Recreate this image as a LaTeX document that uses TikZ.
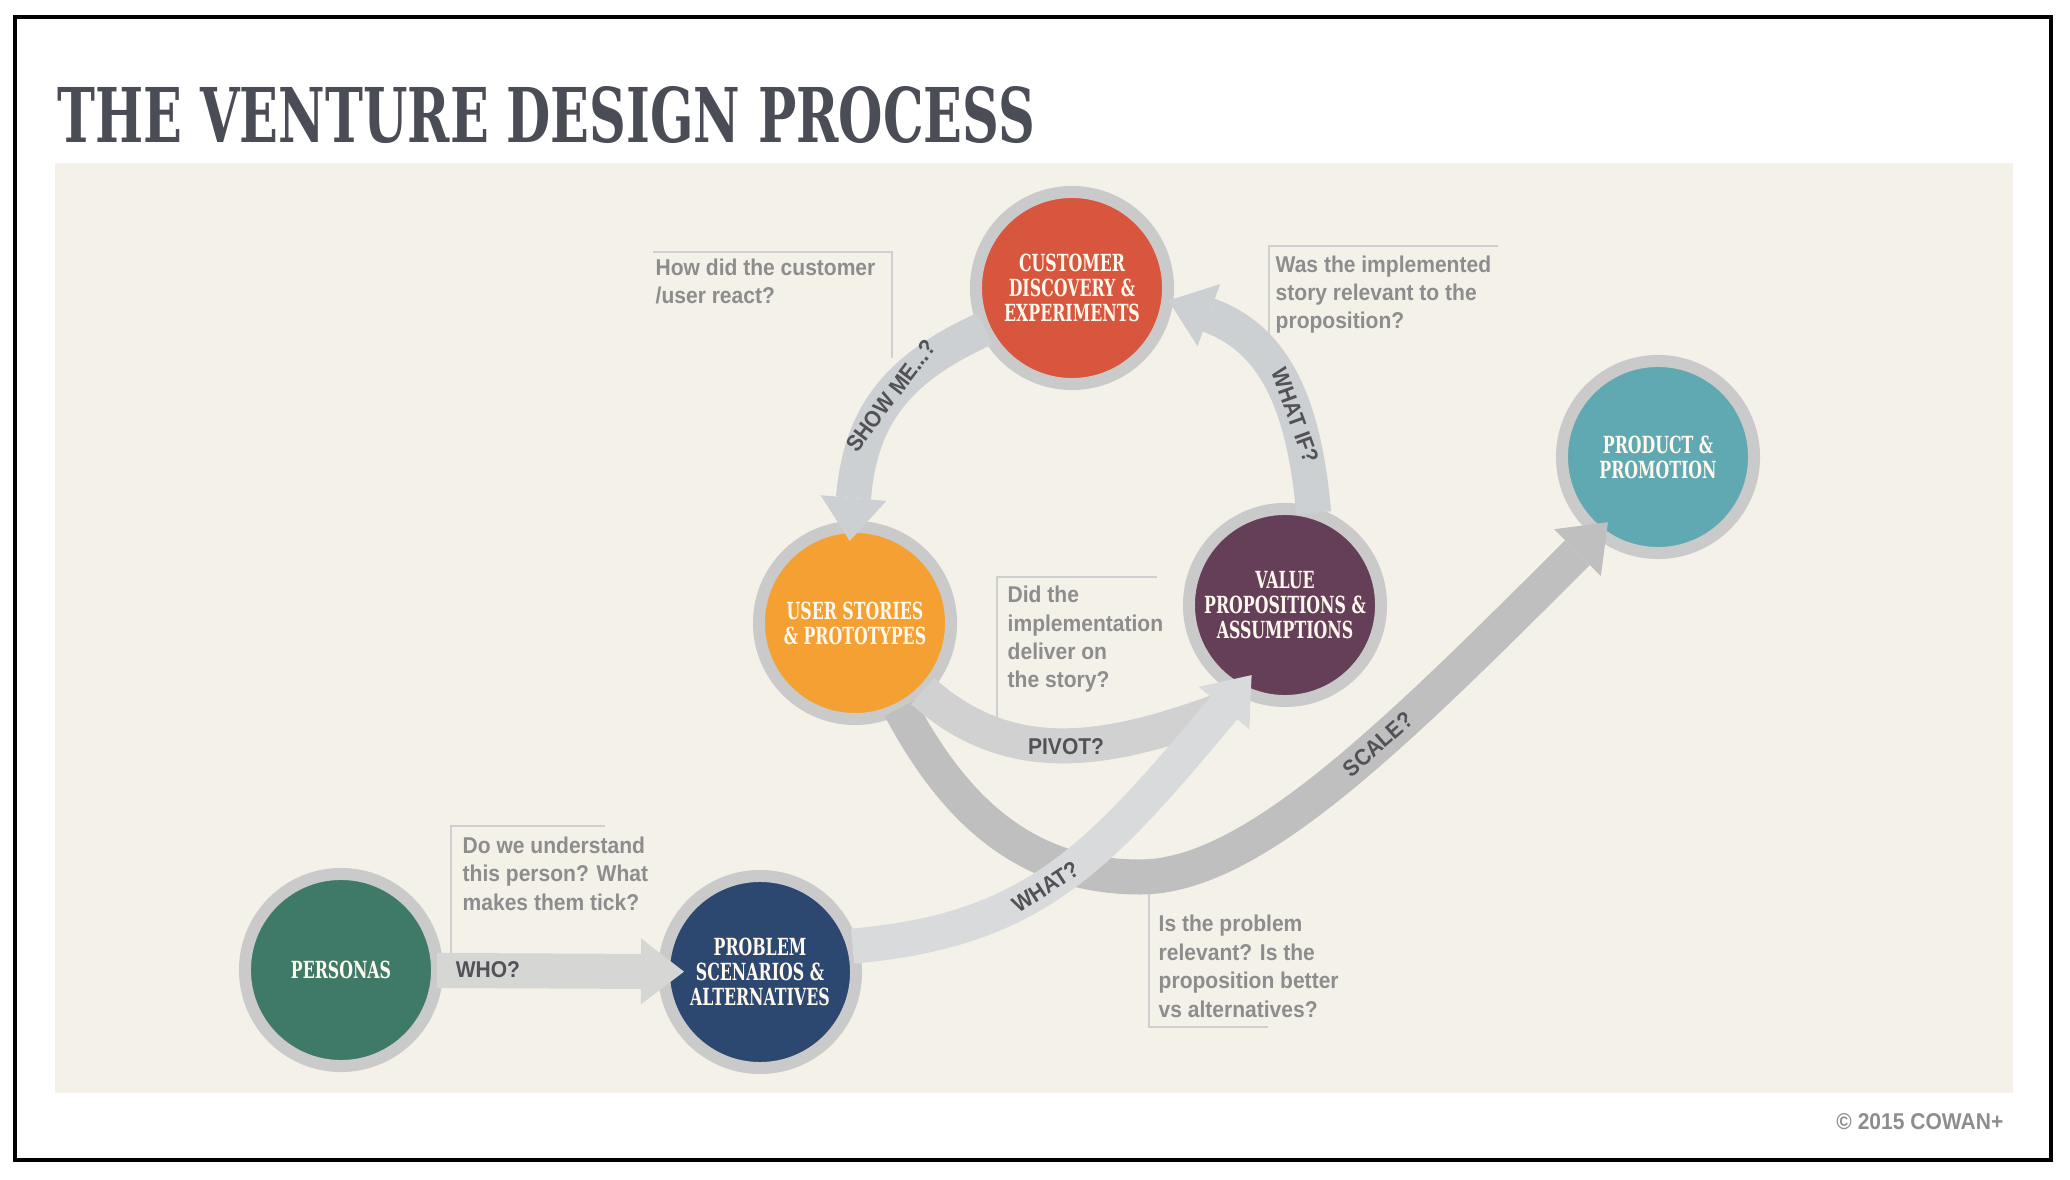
\documentclass[tikz,border=0pt]{standalone}
\usepackage{fontspec}
\usepackage{graphicx}
\usetikzlibrary{arrows.meta}

\newfontfamily\slabfont{DejaVu Serif}[FakeStretch=0.67]
\newfontfamily\gothfont{Liberation Sans}[FakeStretch=0.92]

\definecolor{panel}{HTML}{F4F1E8}
\definecolor{titlegray}{HTML}{4A4D55}
\definecolor{ring}{HTML}{CACACA}
\definecolor{cream}{HTML}{FFF8EC}
\definecolor{custred}{HTML}{D8553E}
\definecolor{userorange}{HTML}{F5A033}
\definecolor{valuepurple}{HTML}{653F57}
\definecolor{productteal}{HTML}{61A9B2}
\definecolor{personagreen}{HTML}{3F7A69}
\definecolor{problemnavy}{HTML}{2D4870}
\definecolor{cyclegray}{HTML}{CDD0D3}
\definecolor{whogray}{HTML}{D6D6D4}
\definecolor{whatgray}{HTML}{D8DADB}
\definecolor{pivotgray}{HTML}{D1D1D1}
\definecolor{scalegray}{HTML}{BFBFBF}
\definecolor{cuegray}{HTML}{505257}
\definecolor{qgray}{HTML}{8D8D8D}
\definecolor{linegray}{HTML}{CFCFCF}

\tikzset{
	stage/.style={circle, minimum size=1.92cm, inner sep=0pt, draw=ring, line width=0.12cm, text=cream, align=center, font=\slabfont\bfseries\fontsize{6.7}{7.1}\selectfont},
	band/.style={line width=0.35cm, line cap=butt, -{Triangle[width=0.66cm, length=0.43cm, line width=0pt]}, shorten <=-0.06cm},
	cue/.style={inner sep=0pt, text=cuegray, font=\gothfont\bfseries\fontsize{6.5}{8.1}\selectfont},
	question/.style={inner sep=0pt, align=left, text=qgray, font=\gothfont\bfseries\fontsize{6.5}{8.1}\selectfont},
	bracket/.style={draw=linegray, line width=0.015cm},
}

\begin{document}
\begin{tikzpicture}[x=0.01cm, y=-0.01cm]

	\useasboundingbox (0,0) rectangle (2070,1180);
	\draw[line width=0.04cm] (15,17) rectangle (2051,1160);
	\fill[panel] (55,163) rectangle (2013,1093);

	\node[anchor=base west, inner sep=0pt, text=titlegray] (title) at (57,143) {\resizebox{9.77cm}{0.56cm}{\slabfont\bfseries THE VENTURE DESIGN PROCESS}};

	% question brackets
	\draw[bracket] (653,252) -- (892,252) -- (892,358);
	\draw[bracket] (1498,246) -- (1269,246) -- (1269,377);
	\draw[bracket] (1157,577) -- (997,577) -- (997,737);
	\draw[bracket] (605,826) -- (451,826) -- (451,988);
	\draw[bracket] (1149,873) -- (1149,1027) -- (1268,1027);

	% anchored at the baseline of the last line
	\node[question, anchor=base west] (qreact) at (655,304) {How did the customer\\/user react?};
	\node[question, anchor=base west] (qrelevant) at (1275,329) {Was the implemented\\story relevant to the\\proposition?};
	\node[question, anchor=base west] (qdeliver) at (1007,688) {Did the\\implementation\\deliver on\\the story?};
	\node[question, anchor=base west] (qperson) at (462,910) {Do we understand\\this person? What\\makes them tick?};
	\node[question, anchor=base west] (qproblem) at (1158,1017) {Is the problem\\relevant? Is the\\proposition better\\vs alternatives?};

	\node[stage, fill=custred] (cust) at (1072,288) {CUSTOMER\\DISCOVERY \&\\EXPERIMENTS};
	\node[stage, fill=userorange] (user) at (855,623) {USER STORIES\\\& PROTOTYPES};
	\node[stage, fill=valuepurple] (value) at (1285,605) {VALUE\\PROPOSITIONS \&\\ASSUMPTIONS};
	\node[stage, fill=productteal] (product) at (1658,457) {PRODUCT \&\\PROMOTION};
	\node[stage, fill=personagreen] (persona) at (341,970) {PERSONAS};
	\node[stage, fill=problemnavy] (problem) at (760,972) {PROBLEM\\SCENARIOS \&\\ALTERNATIVES};

	\draw[band, scalegray, shorten >=-0.2cm] (user.-62) to[out=-62, in=180] (1140,877) to[out=0, in=225, out looseness=0.5, in looseness=1.3] node[cue, sloped, pos=0.6] {SCALE?} (product.231);
	\coordinate (pivotend) at (1222,710);
	\draw[band, -, pivotgray] (user.-45) to[out=-42, in=200] node[cue, pos=0.5] {PIVOT?} (pivotend);
	\draw[band, whatgray, shorten >=-0.25cm] (problem.15) to[out=5, in=230, in looseness=1.2] node[cue, sloped, pos=0.45] {WHAT?} (value.241);
	\draw[band, whogray, shorten >=-0.26cm] (persona) -- (problem);
	\node[cue, anchor=west] (who) at ([xshift=0.12cm]persona.east) {WHO?};
	\draw[band, cyclegray, shorten >=-0.2cm] (cust.205) to[out=204, in=85, looseness=1.1] node[cue, sloped, pos=0.45] {SHOW ME...?} (user.92);
	\draw[band, cyclegray, shorten >=-0.05cm] (value.74) to[out=95, in=-20, looseness=1.1] node[cue, sloped, pos=0.33] {WHAT IF?} (cust.-8);

	\node[anchor=base east, inner sep=0pt, text=qgray, font=\gothfont\bfseries\fontsize{6.5}{8.1}\selectfont] (copy) at (2004,1129) {© 2015 COWAN+};

\end{tikzpicture}
\end{document}
